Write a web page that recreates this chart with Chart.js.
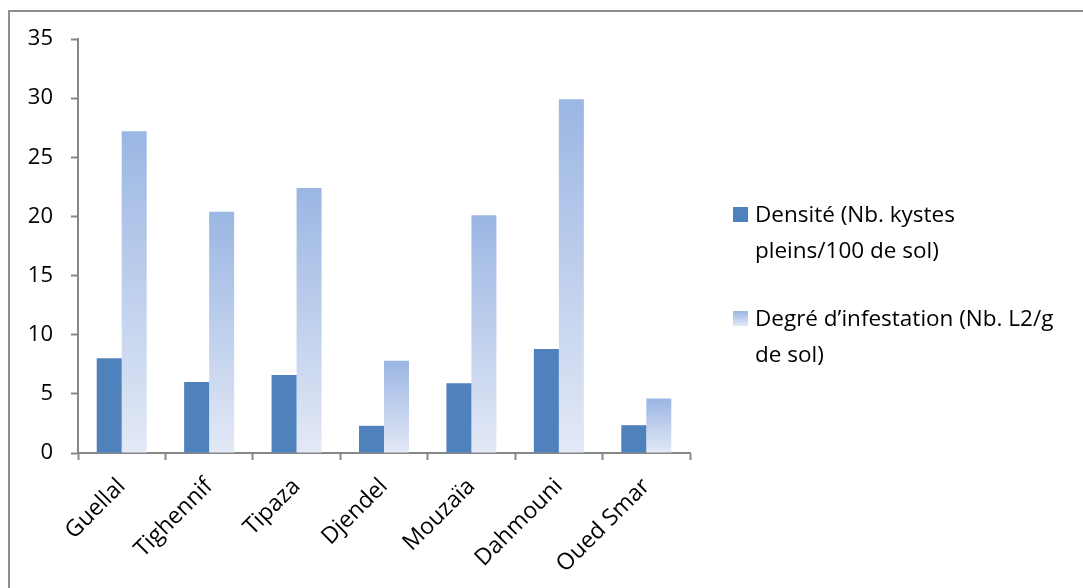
<!DOCTYPE html>
<html>
<head>
<meta charset="utf-8">
<script src="https://cdn.jsdelivr.net/npm/chart.js@4.4.0/dist/chart.umd.min.js"></script>
<style>
    html, body { margin: 0; padding: 0; background: #fff; overflow: hidden; }
    #frame { position: absolute; left: 8px; top: 10px; width: 1200px; height: 700px; border: 2px solid #8e8e8e; }
    #wrap { position: absolute; left: 0; top: 0; width: 1083px; height: 588px; }
</style>
</head>
<body>
<div id="frame"></div>
<div id="wrap"><canvas id="myChart" width="1083" height="588"></canvas></div>
<script>
// sites
const sites = ['Guellal', 'Tighennif', 'Tipaza', 'Djendel', 'Mouzaïa', 'Dahmouni', 'Oued Smar'];
// Densité (Nb. kystes pleins/100 de sol)
const densite = [8.0, 6.0, 6.6, 2.3, 5.9, 8.8, 2.35];
// Degré d'infestation (Nb. L2/g de sol)
const infestation = [27.2, 20.4, 22.4, 7.8, 20.1, 29.9, 4.6];
const yTicks = [0, 5, 10, 15, 20, 25, 30, 35];
// legend text, one entry per line
const legendDensite = ['Densité (Nb. kystes', 'pleins/100 de sol)'];
const legendInfest = ['Degré d’infestation (Nb. L2/g', 'de sol)'];

const FONT = '"Open Sans", "Noto Sans", sans-serif';
const AXIS = '#878787';
const DARK = '#4f81bd';
const GRAD_TOP = '#9bb6e3';
const GRAD_BOT = '#e3e9f6';

// gradient running from the top of each bar down to the axis
function barGradient(context) {
    const chart = context.chart;
    const area = chart.chartArea;
    if (!area || context.type !== 'data') return GRAD_TOP;
    const y = chart.scales.y;
    const top = y.getPixelForValue(context.raw);
    const bottom = y.getPixelForValue(0);
    const g = chart.ctx.createLinearGradient(0, top, 0, bottom);
    g.addColorStop(0, GRAD_TOP);
    g.addColorStop(1, GRAD_BOT);
    return g;
}

// legend drawn on the right, with wrapped labels
const sideLegend = {
    id: 'sideLegend',
    afterDraw(chart) {
        const ctx = chart.ctx;
        const area = chart.chartArea;
        const items = [
            { lines: legendDensite, color: DARK },
            { lines: legendInfest, color: null }
        ];
        const x = area.right + 43;
        let top = 207;
        ctx.save();
        ctx.font = '22.5px ' + FONT;
        ctx.textBaseline = 'alphabetic';
        ctx.textAlign = 'left';
        items.forEach(function (item) {
            if (item.color) {
                ctx.fillStyle = item.color;
            } else {
                const g = ctx.createLinearGradient(0, top, 0, top + 15);
                g.addColorStop(0, GRAD_TOP);
                g.addColorStop(1, GRAD_BOT);
                ctx.fillStyle = g;
            }
            ctx.fillRect(x, top, 15, 15);
            ctx.fillStyle = '#000';
            item.lines.forEach(function (line, i) {
                ctx.fillText(line, x + 22, top + 15 + i * 35.5);
            });
            top += 104;
        });
        ctx.restore();
    }
};

const canvas = document.getElementById('myChart');
const myChart = new Chart(canvas, {
    type: 'bar',
    data: {
        labels: sites,
        datasets: [{
            label: legendDensite.join(' '),
            data: densite,
            backgroundColor: DARK,
            categoryPercentage: 0.572,
            barPercentage: 1.0
        }, {
            label: legendInfest.join(' '),
            data: infestation,
            backgroundColor: barGradient,
            categoryPercentage: 0.572,
            barPercentage: 1.0
        }]
    },
    options: {
        responsive: false,
        animation: false,
        layout: { padding: { left: 0, right: 393, top: 39, bottom: 0 } },
        plugins: {
            legend: { display: false },
            tooltip: { enabled: false }
        },
        scales: {
            x: {
                afterFit: function (scale) { scale.height = 135; },
                grid: { display: true, drawOnChartArea: false, drawTicks: true, tickLength: 7, tickWidth: 2, tickColor: AXIS, offset: true },
                border: { display: true, color: AXIS, width: 2 },
                ticks: {
                    color: '#000',
                    font: { family: FONT, size: 23 },
                    maxRotation: 45,
                    minRotation: 45,
                    autoSkip: false,
                    padding: 13
                }
            },
            y: {
                min: 0,
                max: 35,
                afterFit: function (scale) { scale.width = 78; },
                afterBuildTicks: function (scale) { scale.ticks = yTicks.map(v => ({ value: v })); },
                grid: { display: true, drawOnChartArea: false, drawTicks: true, tickLength: 7, tickWidth: 2, tickColor: AXIS },
                border: { display: true, color: AXIS, width: 2 },
                ticks: {
                    color: '#000',
                    font: { family: FONT, size: 22 },
                    padding: 18
                }
            }
        }
    },
    plugins: [sideLegend]
});
</script>
</body>
</html>
